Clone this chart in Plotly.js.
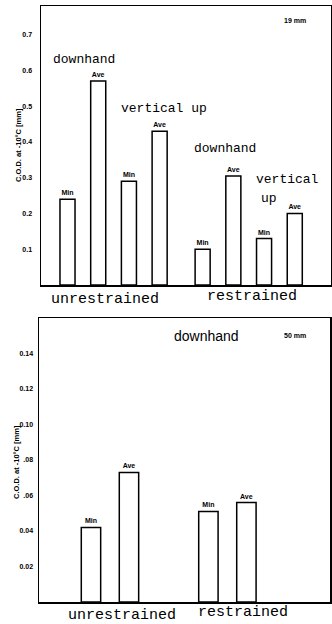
<!DOCTYPE html>
<html>
<head>
<meta charset="utf-8">
<script src="https://cdn.plot.ly/plotly-3.0.1.min.js"></script>
<style>html,body{margin:0;padding:0;background:#fff;}#chart{width:332px;height:624px;}</style>
</head>
<body>
<div id="chart"></div>
<script>
// ---- data ----
const groupNames = ["unrestrained", "restrained"];
const barLabels = ["Min", "Ave", "Min", "Ave"];
// top chart: 19 mm, downhand (Min, Ave) and vertical up (Min, Ave)
const top19Unrestrained = [0.24, 0.57, 0.29, 0.43];
const top19Restrained = [0.10, 0.305, 0.13, 0.20];
const top19Ticks = [0.1, 0.2, 0.3, 0.4, 0.5, 0.6, 0.7];
const top19TickText = ["0.1", "0.2", "0.3", "0.4", "0.5", "0.6", "0.7"];
// bottom chart: 50 mm, downhand (Min, Ave)
const bottomLabels = ["Min", "Ave"];
const bot50Unrestrained = [0.042, 0.073];
const bot50Restrained = [0.051, 0.056];
const bot50Ticks = [0.02, 0.04, 0.06, 0.08, 0.10, 0.12, 0.14];
const bot50TickText = ["0.02", "0.04", ".06", ".08", "0.10", "0.12", "0.14"];

// ---- layout helpers ----
const W = 332, H = 624;
const px = x => x / W;
const py = y => 1 - y / H;

function groupX(groups, gap) {
  const xs = [];
  groups.forEach((g, gi) => g.forEach((v, i) => xs.push(gi * gap + i)));
  return xs;
}

const topVals = top19Unrestrained.concat(top19Restrained);
const topLab = barLabels.concat(barLabels);
const botVals = bot50Unrestrained.concat(bot50Restrained);
const botLab = bottomLabels.concat(bottomLabels);

const barStyle = {color: "#ffffff", line: {color: "#000", width: 1.5}};
const labFont = {family: "Liberation Sans", size: 7, color: "#000", weight: "bold"};

const traces = [
  {
    type: "bar", x: groupX([top19Unrestrained, top19Restrained], 4.4), y: topVals,
    text: topLab, textposition: "outside", textfont: labFont, cliponaxis: false,
    width: 0.49, marker: barStyle, xaxis: "x", yaxis: "y", hoverinfo: "none"
  },
  {
    type: "bar", x: groupX([bot50Unrestrained, bot50Restrained], 3.09), y: botVals,
    text: botLab, textposition: "outside", textfont: labFont, cliponaxis: false,
    width: 0.51, marker: barStyle, xaxis: "x2", yaxis: "y2", hoverinfo: "none"
  }
];

const axLine = {showline: true, linecolor: "#000", linewidth: 1.5, mirror: true, zeroline: false, showgrid: false};
const tickFont = {family: "Liberation Sans", size: 7, color: "#000", weight: "bold"};

const mono = {family: "Liberation Mono", size: 13, color: "#000"};
const monoBig = {family: "Liberation Mono", size: 15, color: "#000"};
const small = {family: "Liberation Sans", size: 7, color: "#000", weight: "bold"};

function ann(text, x, y, font, extra) {
  return Object.assign({text: text, x: px(x), y: py(y), xref: "paper", yref: "paper",
    xanchor: "center", yanchor: "middle", showarrow: false, font: font}, extra || {});
}

const layout = {
  width: W, height: H,
  margin: {l: 0, r: 0, t: 0, b: 0},
  paper_bgcolor: "#fff", plot_bgcolor: "#fff",
  showlegend: false, bargap: 0,
  xaxis: Object.assign({domain: [px(41), px(331)], range: [-0.863, 8.58], showticklabels: false, ticks: "", anchor: "y"}, axLine),
  yaxis: Object.assign({domain: [py(285), py(6)], range: [0, 0.78], tickvals: top19Ticks, ticktext: top19TickText,
    tickfont: tickFont, ticks: "", ticklabelstandoff: 6, anchor: "x"}, axLine),
  xaxis2: Object.assign({domain: [px(39), px(330)], range: [-1.368, 6.29], showticklabels: false, ticks: "", anchor: "y2"}, axLine),
  yaxis2: Object.assign({domain: [py(602), py(318)], range: [0, 0.16], tickvals: bot50Ticks, ticktext: bot50TickText,
    tickfont: tickFont, ticks: "", ticklabelstandoff: 3, anchor: "x2"}, axLine),
  annotations: [
    // top chart
    ann("19 mm", 295, 20, small),
    ann("downhand", 84, 60, mono),
    ann("vertical up", 164, 108, mono),
    ann("downhand", 225, 148, mono),
    ann("vertical", 287, 179, mono),
    ann("up", 269, 198, mono),
    ann(groupNames[0], 105, 299, monoBig),
    ann(groupNames[1], 252, 296, monoBig),
    ann("C.O.D. at -10°C [mm]", 18, 145, {family: "Liberation Sans", size: 7.5, color: "#000", weight: "bold"}, {textangle: -90}),
    // bottom chart
    ann("downhand", 206, 336, {family: "Liberation Sans", size: 14, color: "#000"}),
    ann("50 mm", 295, 335, small),
    ann(groupNames[0], 122, 615, monoBig),
    ann(groupNames[1], 243, 612, monoBig),
    ann("C.O.D. at -10°C [mm]", 16, 462, {family: "Liberation Sans", size: 7.5, color: "#000", weight: "bold"}, {textangle: -90})
  ]
};

Plotly.newPlot("chart", traces, layout, {staticPlot: true, displayModeBar: false});
</script>
</body>
</html>
